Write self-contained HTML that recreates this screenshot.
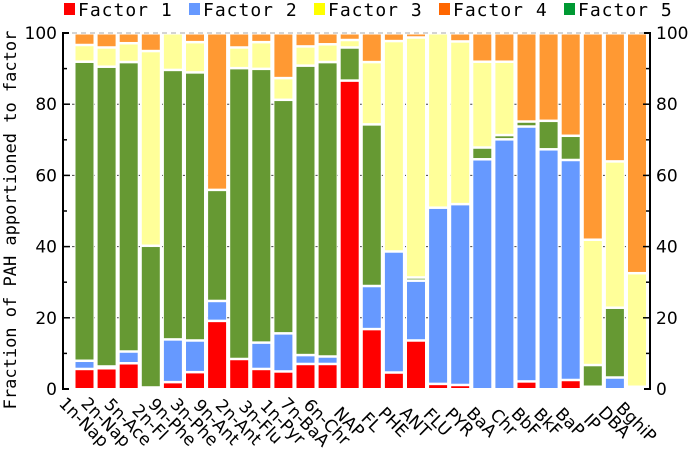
<!DOCTYPE html>
<html><head><meta charset="utf-8"><style>
body{margin:0;background:#fff}
svg{display:block;font-family:"DejaVu Sans","Liberation Sans",sans-serif}
.mono{font-family:"DejaVu Sans Mono","Liberation Mono",monospace}
</style></head><body>
<svg id="c" width="700" height="461"></svg>
<script>
const categories=["1n-Nap","2n-Nap","5n-Ace","2n-Fl","9n-Phe","3n-Phe","9n-Ant","2n-Ant","3n-Flu","1n-Pyr","7n-BaA","6n-Chr","NAP","FL","PHE","ANT","FLU","PYR","BaA","Chr","BbF","BkF","BaP","IP","DBA","BghiP"];
const factor1=[5.7,5.9,7.3,0.5,2.0,4.8,19.2,8.5,5.7,5.0,7.1,7.1,86.7,16.9,4.7,13.7,1.5,1.2,0,0,2.2,0,2.6,0.7,0,0.7];
const factor2=[2.3,0.5,3.3,0,12.0,8.9,5.6,0,7.4,10.7,2.5,2.1,0,12.1,34.0,16.8,49.5,50.8,64.6,70.2,71.6,67.4,61.8,0,3.3,0];
const factor5=[84.0,84.2,81.3,39.8,75.7,75.3,31.2,81.7,76.9,65.6,81.3,82.7,9.3,45.4,0,0.9,0,0,3.3,1.2,1.4,8.0,6.8,6.1,19.6,0];
const factor3=[4.7,5.4,5.3,54.7,10.3,8.5,0,5.8,7.5,6.1,5.4,5.0,2.1,17.5,59.1,67.4,49.0,45.7,24.1,20.6,0,0,0,35.2,41.1,31.9];
const factor4=[3.3,4.0,2.8,5.0,0,2.5,44.0,4.0,2.5,12.6,3.7,3.1,1.9,8.1,2.2,1.2,0,2.3,8.0,8.0,24.8,24.6,28.8,58.0,36.0,67.4];
const yTicks=[0,20,40,60,80,100];
const series=[
 {name:"Factor 1",vals:factor1,color:"#ff0000",legend:"#ff0000"},
 {name:"Factor 2",vals:factor2,color:"#6699ff",legend:"#6699ff"},
 {name:"Factor 5",vals:factor5,color:"#669933",legend:"#009933"},
 {name:"Factor 3",vals:factor3,color:"#ffff99",legend:"#ffff00"},
 {name:"Factor 4",vals:factor4,color:"#ff9933",legend:"#ff6600"}];
const legendOrder=["Factor 1","Factor 2","Factor 3","Factor 4","Factor 5"];
const NS="http://www.w3.org/2000/svg",svg=document.getElementById('c');
function el(t,a,p){const e=document.createElementNS(NS,t);for(const k in a)e.setAttribute(k,a[k]);(p||svg).appendChild(e);return e;}
const X0=74,PITCH=22.1,BW=20,Y0=389,Y100=33;
const y=v=>Y0-(v/100)*(Y0-Y100);
const x=i=>X0+i*PITCH;
yTicks.forEach(t=>{if(t>0){const g=el('line',{x1:63,x2:650,y1:y(t),y2:y(t),stroke:t==100?'#aaa':'#444','stroke-dasharray':'5,4','stroke-width':1});}});
categories.forEach((c,i)=>{let cum=0;series.forEach(s=>{const v=s.vals[i];if(v>0){const r=el('rect',{x:x(i)+1,y:y(cum+v)+1,width:BW-1,height:Math.max(0,y(cum)-y(cum+v)-1.5),fill:s.color,stroke:'#fff','stroke-width':1});}cum+=v;});
 const lx=x(i)+10,ly=422;
 const lb=el('text',{x:lx,y:ly,dy:'0.35em','text-anchor':'middle','font-size':17,transform:`rotate(45 ${lx} ${ly})`,fill:'#000'});lb.textContent=c;
 });
const ax=el('path',{d:`M69 33H63V389H69 M644 33H650V389H644`,stroke:'#000',fill:'none','stroke-width':2});

for(let t=10;t<100;t+=10){el('line',{x1:63,x2:t%20?67:70,y1:y(t),y2:y(t),stroke:'#000','stroke-width':1.5});el('line',{x1:650,x2:t%20?646:643,y1:y(t),y2:y(t),stroke:'#000','stroke-width':1.5});}
yTicks.forEach(t=>{const a=el('text',{x:57,y:y(t)+6,'text-anchor':'end','font-size':17});a.textContent=t;
 const b=el('text',{x:656,y:y(t)+6,'font-size':17});b.textContent=t;});
const yt=el('text',{x:16,y:220,'font-size':17,'text-anchor':'middle',class:'mono',transform:'rotate(-90 16 220)'});yt.textContent='Fraction of PAH apportioned to factor';

legendOrder.forEach((n,k)=>{const s=series.find(q=>q.name===n);const lx=64+k*125;
 const g=el('g',{});
 el('rect',{x:lx,y:3,width:11,height:12,fill:s.legend},g);
 const t=el('text',{x:lx+14,y:16,'font-size':18,'letter-spacing':1,class:'mono'},g);t.textContent=n;});
</script>
</body></html>
